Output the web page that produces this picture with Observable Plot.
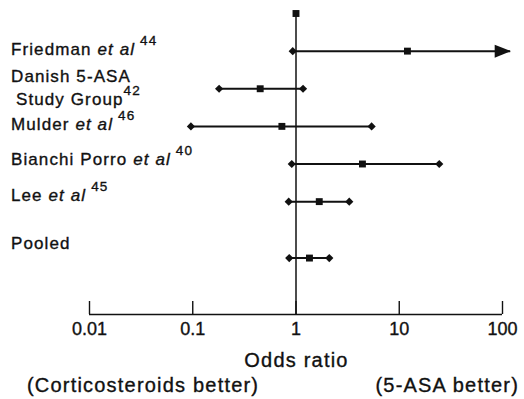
<!DOCTYPE html>
<html><head><meta charset="utf-8">
<script src="https://cdn.jsdelivr.net/npm/d3@7"></script>
<script src="https://cdn.jsdelivr.net/npm/@observablehq/plot@0.6"></script>
<style>
body{margin:0;background:#fff}
svg{font-family:"Liberation Sans",Arial,Helvetica,sans-serif}
svg text{stroke:#111;stroke-width:0.35px}
</style>
</head><body><div id="chart"></div>
<script>
// ---- data ----
const studies   = ["Friedman", "Danish", "Mulder", "Bianchi Porro", "Lee", "Pooled"];
const oddsRatio = [12, 0.45, 0.73, 4.4, 1.68, 1.35];
const ciLow     = [0.93, 0.18, 0.096, 0.91, 0.85, 0.86];
const ciHigh    = [null, 1.17, 5.4, 24.4, 3.28, 2.1];   // null: beyond axis (arrow)
const arrowTip  = [120, null, null, null, null, null];
const xTicks    = [0.01, 0.1, 1, 10, 100];
const tickLabels = ["0.01", "0.1", "1", "10", "100"];
const refLabel = "ref";
const labelLines = [
  [[{t: "Friedman "}, {t: "et al", i: true}, {t: "44", sup: true}]],
  [[{t: "Danish 5-ASA"}], [{t: "Study Group"}, {t: "42", sup: true, tight: true}]],
  [[{t: "Mulder "}, {t: "et al", i: true}, {t: "46", sup: true}]],
  [[{t: "Bianchi Porro "}, {t: "et al", i: true}, {t: "40", sup: true}]],
  [[{t: "Lee "}, {t: "et al", i: true}, {t: "45", sup: true}]],
  [[{t: "Pooled"}]]
];
const axisTitle = "Odds ratio";
const leftNote = "(Corticosteroids better)";
const rightNote = "(5-ASA better)";

// ---- layout ----
const yDomain = [refLabel, "_1", "Friedman", "_2", "Danish", "_3", "Mulder", "_4",
  "Bianchi Porro", "_5", "Lee", "_6", "_7", "Pooled", "_8", "_9", "_axis"];
const labelDy = [[4.5], [-6, 17], [4.6], [1.5], [-0.5], [-8.5]];
const labelDx = [[0], [0, 5], [0], [0], [0], [0]];

const rows = studies.map((s, i) => ({
  study: s, or: oddsRatio[i], lo: ciLow[i],
  hi: ciHigh[i] ?? arrowTip[i], open: ciHigh[i] == null
}));

const arrowHead = {
  draw(ctx) { ctx.moveTo(0, 0); ctx.lineTo(-16, -6.5); ctx.lineTo(-16, 6.5); ctx.closePath(); }
};
const ink = "#111";

const chart = Plot.plot({
  width: 524, height: 399,
  marginLeft: 89, marginRight: 22, marginTop: 13, marginBottom: 85,
  style: {background: "white", color: ink, fontFamily: "'Liberation Sans', Arial, sans-serif"},
  x: {type: "log", domain: [0.01, 100], axis: null},
  y: {type: "point", domain: yDomain, range: [13, 314], padding: 0, round: false, axis: null},
  marks: [
    Plot.ruleY(["_axis"], {strokeWidth: 1.6, stroke: ink}),
    Plot.axisX(xTicks, {
      tickSize: -13, tickPadding: 21.2, strokeWidth: 1.4, fontSize: 18,
      tickFormat: d => tickLabels[xTicks.indexOf(d)], label: null
    }),
    Plot.ruleX([1], {strokeWidth: 1.5, stroke: ink}),
    Plot.dot([1], {x: d => d, y: () => refLabel, symbol: "square", r: 3.9, fill: ink}),
    Plot.ruleY(rows, {y: "study", x1: "lo", x2: "hi", strokeWidth: 2, stroke: ink}),
    Plot.dot(rows, {x: "lo", y: "study", symbol: "diamond2", r: 3.7, fill: ink}),
    Plot.dot(rows.filter(d => !d.open), {x: "hi", y: "study", symbol: "diamond2", r: 3.7, fill: ink}),
    Plot.dot(rows.filter(d => d.open), {x: "hi", y: "study", symbol: arrowHead, fill: ink}),
    Plot.dot(rows, {x: "or", y: "study", symbol: "square", r: 3.9, fill: ink})
  ]
});
document.getElementById("chart").appendChild(chart);

// ---- rich text labels (italics & superscripts) ----
const svg = d3.select(chart.tagName === "svg" ? chart : chart.querySelector("svg"));
const ys = chart.scale("y"), xs = chart.scale("x");
const g = svg.append("g").attr("fill", ink).attr("font-size", 17)
  .attr("letter-spacing", "1.1px").attr("text-anchor", "start");
studies.forEach((s, i) => {
  labelLines[i].forEach((line, j) => {
    const t = g.append("text")
      .attr("x", 11 + labelDx[i][j])
      .attr("y", ys.apply(s) + labelDy[i][j]);
    line.forEach(p => {
      const sp = t.append("tspan").text(p.t);
      if (p.i) sp.attr("font-style", "italic");
      if (p.sup) sp.attr("font-size", 13.5).attr("dy", -10).attr("dx", p.tight ? 0 : 5);
    });
  });
});
const x1 = xs.apply(1);
const b = svg.append("g").attr("fill", ink).attr("font-size", 20)
  .attr("letter-spacing", "1.2px").attr("text-anchor", "start");
b.append("text").attr("x", x1 + 1).attr("y", 367).attr("text-anchor", "middle").text(axisTitle);
b.append("text").attr("x", 27).attr("y", 392).text(leftNote);
b.append("text").attr("x", 519).attr("y", 392).attr("text-anchor", "end").text(rightNote);
</script>
</body></html>
